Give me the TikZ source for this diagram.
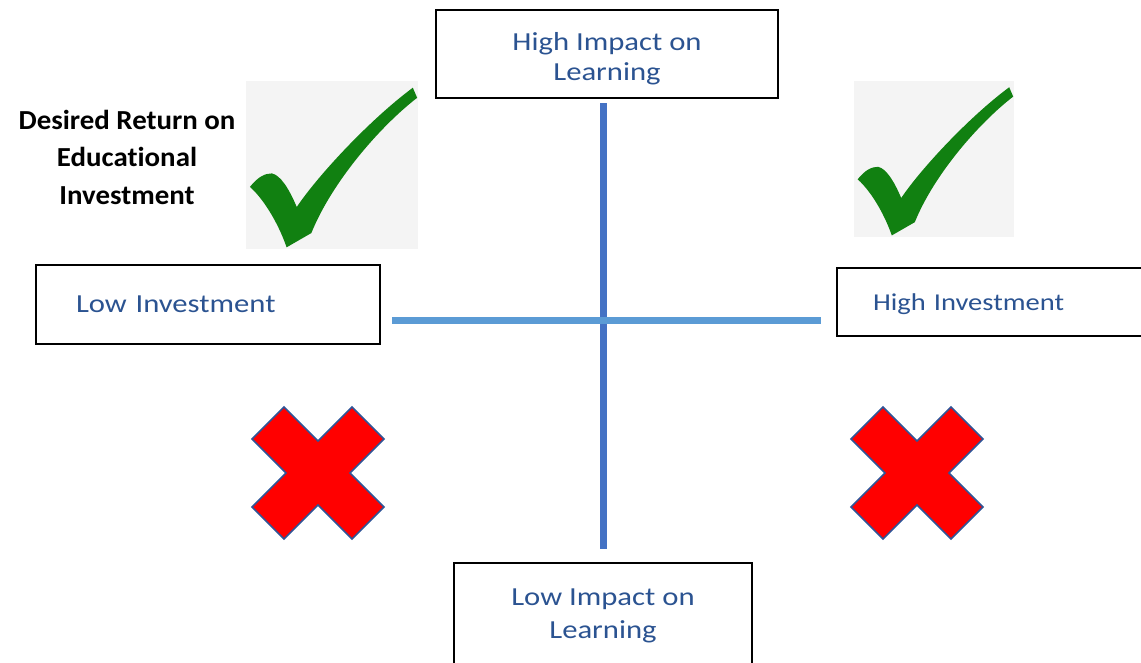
\documentclass[tikz,border=0pt]{standalone}
\usepackage{fontspec}
\setmainfont{Carlito}
\newfontfamily\boxfont[FakeStretch=1.18, Ligatures=NoCommon]{Carlito}
\newfontfamily\titlefont[FakeStretch=1.05, Ligatures=NoCommon]{Carlito}
\usepackage{xcolor}
\definecolor{boxtext}{RGB}{43,83,145}
\definecolor{vblue}{RGB}{68,114,196}
\definecolor{hblue}{RGB}{91,155,213}
\definecolor{tickgreen}{RGB}{17,128,17}
\definecolor{tickbg}{RGB}{244,244,244}
\definecolor{crossedge}{RGB}{47,85,151}

\tikzset{
  axisbox/.style = {draw = black, line width = 2.5pt, rectangle, inner sep = 0pt,
    text = boxtext, font = \boxfont\fontsize{26}{30}\selectfont},
  title/.style = {align = center, font = \titlefont\bfseries\fontsize{27.5}{37.5}\selectfont},
  vaxis/.style = {vblue, line width = 7pt},
  haxis/.style = {hblue, line width = 7pt},
  pics/tick/.style 2 args = {code = {
    \begin{scope}[x = #1pt, y = -#2pt]
    \fill[tickbg] (0,0) rectangle (1,1);
    \fill[tickgreen] (0.023,0.63) .. controls (0.07,0.57) and (0.11,0.55) .. (0.15,0.55)
      .. controls (0.20,0.56) and (0.25,0.64) .. (0.295,0.75)
      .. controls (0.42,0.56) and (0.72,0.23) .. (0.97,0.04)
      -- (0.995,0.10)
      .. controls (0.78,0.27) and (0.50,0.60) .. (0.38,0.905)
      -- (0.236,0.99)
      .. controls (0.20,0.88) and (0.12,0.72) .. (0.023,0.63) -- cycle;
    \end{scope}}},
  pics/cross/.style = {code = {
    \filldraw[fill = red, draw = crossedge, line width = 1.5pt]
      (-34,-66) -- (0,-32) -- (34,-66) -- (66,-34) -- (32,0) -- (66,34)
      -- (34,66) -- (0,32) -- (-34,66) -- (-66,34) -- (-32,0) -- (-66,-34) -- cycle;}}
}

\begin{document}
\begin{tikzpicture}[x = 1pt, y = -1pt]
\useasboundingbox (0,0) rectangle (1141,662);

\node[axisbox, minimum width = 342pt, minimum height = 88pt, align = center] (hiimp) at (607,54) {\rule{0pt}{27pt}High Impact on\\Learning};
\node[axisbox, minimum width = 298pt, minimum height = 106pt, align = center, font = \boxfont\fontsize{26}{33}\selectfont] (loimp) at (603,616) {Low Impact on\\Learning};
\node[axisbox, minimum height = 79pt, text width = 264pt, inner xsep = 40pt, align = left] (loinv) at (208,304.5) {Low Investment};
\node[axisbox, minimum height = 68pt, text width = 248pt, inner xsep = 36pt, align = left, font = \boxfont\fontsize{24.2}{30}\selectfont] (hiinv) at (997,302) {\rule{0pt}{21pt}High Investment};
\node[title] (roi) at (127,157) {Desired Return on\\Educational\\Investment};

\coordinate (mid) at (603,320);
\draw[vaxis, shorten <= 4pt, shorten >= 13pt] (mid |- hiimp.south) -- (mid |- loimp.north);
\draw[haxis, shorten <= 11pt, shorten >= 15pt] (mid -| loinv.east) -- (mid -| hiinv.west);

\pic at (246,81) {tick={172}{168}};
\pic at (854,81) {tick={160}{156}};
\pic at (318,473) {cross};
\pic at (917,473) {cross};
\end{tikzpicture}
\end{document}
